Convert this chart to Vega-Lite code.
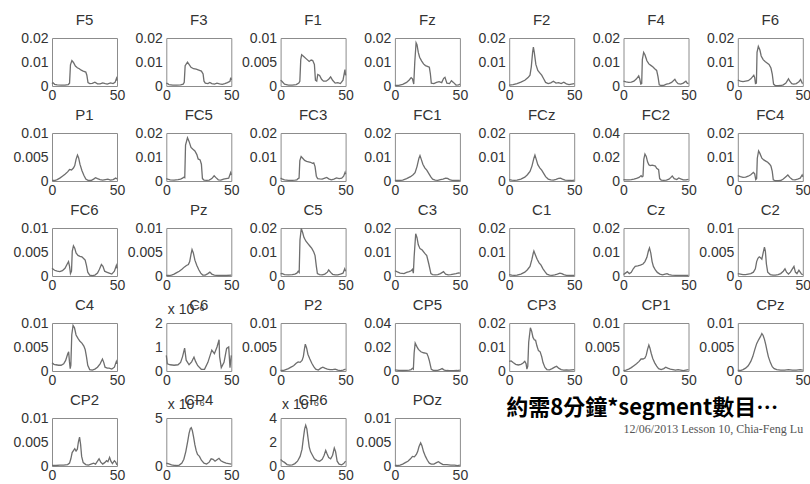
{
"$schema":"https://vega.github.io/schema/vega-lite/v6.json",
"background":"#ffffff",
"padding":{"left":12,"top":12,"right":0,"bottom":0},
"columns":7,
"spacing":{"row":47,"column":49.3},
"bounds":"flush",
"datasets":{
"F5":[{"f":0,"p":0.0010},{"f":0.7,"p":0.0014},{"f":2,"p":0.0007},{"f":4,"p":0.0005},{"f":7,"p":0.0004},{"f":10,"p":0.0004},{"f":12.5,"p":0.0006},{"f":13.5,"p":0.0012},{"f":14.2,"p":0.0088},{"f":15.3,"p":0.0106},{"f":16.5,"p":0.0098},{"f":18,"p":0.0083},{"f":19.5,"p":0.0076},{"f":21,"p":0.0072},{"f":22.5,"p":0.0066},{"f":24,"p":0.0062},{"f":26,"p":0.0058},{"f":26.8,"p":0.0045},{"f":27.7,"p":0.0014},{"f":29,"p":0.0010},{"f":31,"p":0.0011},{"f":33,"p":0.0016},{"f":35,"p":0.0009},{"f":37,"p":0.0009},{"f":39,"p":0.0013},{"f":41,"p":0.0010},{"f":42.5,"p":0.0008},{"f":45,"p":0.0013},{"f":47,"p":0.0010},{"f":48.5,"p":0.0015},{"f":49.6,"p":0.0032},{"f":50,"p":0.0022}],
"F3":[{"f":0,"p":0.0012},{"f":1,"p":0.0010},{"f":2,"p":0.0006},{"f":5,"p":0.0004},{"f":8,"p":0.0004},{"f":11,"p":0.0005},{"f":13,"p":0.0008},{"f":13.8,"p":0.0015},{"f":14.5,"p":0.0085},{"f":16.3,"p":0.0099},{"f":17.5,"p":0.0090},{"f":19,"p":0.0078},{"f":21,"p":0.0072},{"f":23,"p":0.0070},{"f":25,"p":0.0066},{"f":27,"p":0.0062},{"f":28.3,"p":0.0050},{"f":29,"p":0.0020},{"f":30,"p":0.0012},{"f":32,"p":0.0010},{"f":33.5,"p":0.0015},{"f":35,"p":0.0010},{"f":37,"p":0.0008},{"f":39,"p":0.0012},{"f":41,"p":0.0009},{"f":43,"p":0.0007},{"f":45,"p":0.0010},{"f":47,"p":0.0014},{"f":49,"p":0.0020},{"f":49.6,"p":0.0035},{"f":50,"p":0.0025}],
"F1":[{"f":0,"p":0.0012},{"f":1,"p":0.0010},{"f":3,"p":0.0004},{"f":6,"p":0.0002},{"f":9,"p":0.0002},{"f":12,"p":0.0003},{"f":14,"p":0.0006},{"f":14.8,"p":0.0010},{"f":15.5,"p":0.0055},{"f":16.2,"p":0.0065},{"f":18,"p":0.0061},{"f":20,"p":0.0056},{"f":22,"p":0.0051},{"f":23.5,"p":0.0054},{"f":24.7,"p":0.0053},{"f":26,"p":0.0045},{"f":26.8,"p":0.0012},{"f":27.8,"p":0.0010},{"f":28.6,"p":0.0024},{"f":30,"p":0.0022},{"f":31.5,"p":0.0014},{"f":33,"p":0.0010},{"f":35,"p":0.0010},{"f":37,"p":0.0014},{"f":38.5,"p":0.0019},{"f":40,"p":0.0012},{"f":42,"p":0.0006},{"f":44,"p":0.0007},{"f":46,"p":0.0005},{"f":48,"p":0.0012},{"f":49.5,"p":0.0034},{"f":50,"p":0.0022}],
"Fz":[{"f":0,"p":0.0002},{"f":3,"p":0.0003},{"f":6,"p":0.0007},{"f":9,"p":0.0015},{"f":11,"p":0.0025},{"f":12.5,"p":0.0035},{"f":13.5,"p":0.0030},{"f":14.5,"p":0.0008},{"f":15.3,"p":0.0100},{"f":16.3,"p":0.0180},{"f":17,"p":0.0172},{"f":18,"p":0.0140},{"f":19,"p":0.0120},{"f":20.5,"p":0.0105},{"f":22,"p":0.0092},{"f":23.5,"p":0.0085},{"f":25,"p":0.0082},{"f":26.5,"p":0.0078},{"f":27.3,"p":0.0050},{"f":28,"p":0.0012},{"f":30,"p":0.0010},{"f":32,"p":0.0015},{"f":34,"p":0.0018},{"f":36,"p":0.0014},{"f":37.5,"p":0.0032},{"f":38.5,"p":0.0036},{"f":40,"p":0.0012},{"f":42,"p":0.0010},{"f":43.5,"p":0.0022},{"f":45,"p":0.0015},{"f":47,"p":0.0004},{"f":49,"p":0.0005},{"f":50,"p":0.0008}],
"F2":[{"f":0,"p":0.0004},{"f":3,"p":0.0006},{"f":6,"p":0.0010},{"f":9,"p":0.0016},{"f":12,"p":0.0024},{"f":14.5,"p":0.0035},{"f":16,"p":0.0045},{"f":17,"p":0.0080},{"f":18,"p":0.0140},{"f":18.6,"p":0.0162},{"f":19.3,"p":0.0140},{"f":20.5,"p":0.0090},{"f":22,"p":0.0065},{"f":23.5,"p":0.0055},{"f":25,"p":0.0045},{"f":26.5,"p":0.0030},{"f":28,"p":0.0015},{"f":30,"p":0.0010},{"f":32,"p":0.0013},{"f":34,"p":0.0020},{"f":36,"p":0.0012},{"f":38,"p":0.0014},{"f":40,"p":0.0010},{"f":42,"p":0.0016},{"f":44,"p":0.0009},{"f":46,"p":0.0006},{"f":48,"p":0.0008},{"f":50,"p":0.0010}],
"F4":[{"f":0,"p":0.0020},{"f":2,"p":0.0017},{"f":4,"p":0.0015},{"f":6,"p":0.0016},{"f":8,"p":0.0020},{"f":10,"p":0.0030},{"f":11.7,"p":0.0042},{"f":12.5,"p":0.0030},{"f":13.3,"p":0.0008},{"f":14,"p":0.0010},{"f":14.5,"p":0.0110},{"f":15.5,"p":0.0140},{"f":16.5,"p":0.0130},{"f":18,"p":0.0105},{"f":19.5,"p":0.0092},{"f":21,"p":0.0086},{"f":22.5,"p":0.0080},{"f":24,"p":0.0072},{"f":25.5,"p":0.0065},{"f":26.5,"p":0.0040},{"f":27.5,"p":0.0005},{"f":29,"p":0.0002},{"f":31,"p":0.0003},{"f":33,"p":0.0008},{"f":35,"p":0.0010},{"f":37,"p":0.0015},{"f":39.5,"p":0.0028},{"f":40.5,"p":0.0018},{"f":42,"p":0.0010},{"f":44,"p":0.0008},{"f":46,"p":0.0012},{"f":48,"p":0.0020},{"f":49,"p":0.0012},{"f":50,"p":0.0010}],
"F6":[{"f":0,"p":0.0025},{"f":2,"p":0.0020},{"f":4,"p":0.0018},{"f":6,"p":0.0020},{"f":8,"p":0.0022},{"f":10,"p":0.0030},{"f":12.3,"p":0.0045},{"f":13,"p":0.0035},{"f":13.6,"p":0.0010},{"f":14.3,"p":0.0012},{"f":14.8,"p":0.0140},{"f":15.8,"p":0.0165},{"f":17,"p":0.0150},{"f":18,"p":0.0125},{"f":19.5,"p":0.0110},{"f":21,"p":0.0102},{"f":22.5,"p":0.0096},{"f":24,"p":0.0090},{"f":25.5,"p":0.0075},{"f":26.5,"p":0.0050},{"f":27.5,"p":0.0008},{"f":29,"p":0.0001},{"f":31,"p":0.0001},{"f":33,"p":0.0002},{"f":35,"p":0.0005},{"f":37,"p":0.0012},{"f":39,"p":0.0030},{"f":40,"p":0.0020},{"f":41.5,"p":0.0010},{"f":43,"p":0.0008},{"f":45,"p":0.0010},{"f":47,"p":0.0018},{"f":48.3,"p":0.0027},{"f":49.5,"p":0.0012},{"f":50,"p":0.0010}],
"P1":[{"f":0,"p":0.0001},{"f":2,"p":0.0001},{"f":4,"p":0.0003},{"f":6,"p":0.0006},{"f":8,"p":0.0010},{"f":10,"p":0.0014},{"f":12,"p":0.0019},{"f":13.5,"p":0.0024},{"f":15,"p":0.0023},{"f":16.5,"p":0.0027},{"f":17.5,"p":0.0032},{"f":18.5,"p":0.0045},{"f":19.6,"p":0.0054},{"f":20.5,"p":0.0048},{"f":21.5,"p":0.0035},{"f":23,"p":0.0022},{"f":24.5,"p":0.0012},{"f":26,"p":0.0004},{"f":28,"p":0.0001},{"f":30,"p":0.0001},{"f":32,"p":0.0004},{"f":33.5,"p":0.0007},{"f":35,"p":0.0005},{"f":37,"p":0.0003},{"f":39,"p":0.0002},{"f":41,"p":0.0003},{"f":43,"p":0.0004},{"f":45,"p":0.0002},{"f":47,"p":0.0003},{"f":49,"p":0.0006},{"f":50,"p":0.0004}],
"FC5":[{"f":0,"p":0.0010},{"f":1,"p":0.0008},{"f":3,"p":0.0005},{"f":6,"p":0.0004},{"f":9,"p":0.0006},{"f":11,"p":0.0008},{"f":12.5,"p":0.0012},{"f":13.5,"p":0.0016},{"f":14.2,"p":0.0014},{"f":14.8,"p":0.0150},{"f":16.3,"p":0.0180},{"f":17.5,"p":0.0165},{"f":19,"p":0.0140},{"f":20.5,"p":0.0132},{"f":22,"p":0.0125},{"f":23.5,"p":0.0110},{"f":24.5,"p":0.0092},{"f":26,"p":0.0088},{"f":27,"p":0.0070},{"f":27.8,"p":0.0010},{"f":29,"p":0.0004},{"f":31,"p":0.0003},{"f":33,"p":0.0004},{"f":35,"p":0.0010},{"f":36.8,"p":0.0022},{"f":38,"p":0.0015},{"f":40,"p":0.0005},{"f":42,"p":0.0004},{"f":44,"p":0.0008},{"f":46,"p":0.0010},{"f":48,"p":0.0012},{"f":49.5,"p":0.0035},{"f":50,"p":0.0025}],
"FC3":[{"f":0,"p":0.0012},{"f":1,"p":0.0009},{"f":3,"p":0.0005},{"f":6,"p":0.0003},{"f":9,"p":0.0003},{"f":11,"p":0.0004},{"f":12.5,"p":0.0005},{"f":13.5,"p":0.0010},{"f":14.2,"p":0.0012},{"f":14.8,"p":0.0085},{"f":15.8,"p":0.0102},{"f":17,"p":0.0095},{"f":18.5,"p":0.0086},{"f":20,"p":0.0082},{"f":21.5,"p":0.0080},{"f":23,"p":0.0078},{"f":24.5,"p":0.0074},{"f":25.5,"p":0.0076},{"f":26.5,"p":0.0060},{"f":27.5,"p":0.0020},{"f":28.5,"p":0.0010},{"f":30,"p":0.0009},{"f":32,"p":0.0008},{"f":34,"p":0.0012},{"f":35.5,"p":0.0015},{"f":37,"p":0.0009},{"f":39,"p":0.0005},{"f":41,"p":0.0008},{"f":43,"p":0.0013},{"f":45,"p":0.0010},{"f":47,"p":0.0012},{"f":48.5,"p":0.0020},{"f":49.6,"p":0.0036},{"f":50,"p":0.0028}],
"FC1":[{"f":0,"p":0.0002},{"f":3,"p":0.0002},{"f":6,"p":0.0004},{"f":9,"p":0.0010},{"f":12,"p":0.0018},{"f":14,"p":0.0026},{"f":15.5,"p":0.0035},{"f":17,"p":0.0060},{"f":18.5,"p":0.0095},{"f":19.3,"p":0.0106},{"f":20.3,"p":0.0090},{"f":21.5,"p":0.0070},{"f":23,"p":0.0055},{"f":24.5,"p":0.0045},{"f":26,"p":0.0032},{"f":27.5,"p":0.0018},{"f":29,"p":0.0008},{"f":31,"p":0.0004},{"f":33,"p":0.0003},{"f":35,"p":0.0006},{"f":37,"p":0.0008},{"f":39,"p":0.0012},{"f":40.5,"p":0.0011},{"f":42,"p":0.0006},{"f":44,"p":0.0003},{"f":46,"p":0.0002},{"f":48,"p":0.0002},{"f":50,"p":0.0003}],
"FCz":[{"f":0,"p":0.0006},{"f":2,"p":0.0004},{"f":4,"p":0.0003},{"f":6,"p":0.0004},{"f":9,"p":0.0008},{"f":12,"p":0.0016},{"f":14,"p":0.0026},{"f":16,"p":0.0040},{"f":17.5,"p":0.0062},{"f":19,"p":0.0095},{"f":19.8,"p":0.0108},{"f":20.8,"p":0.0090},{"f":22,"p":0.0068},{"f":23.5,"p":0.0055},{"f":25,"p":0.0045},{"f":26.5,"p":0.0032},{"f":28,"p":0.0018},{"f":30,"p":0.0008},{"f":32,"p":0.0005},{"f":34,"p":0.0004},{"f":36,"p":0.0007},{"f":38,"p":0.0011},{"f":39.5,"p":0.0012},{"f":41,"p":0.0008},{"f":43,"p":0.0004},{"f":46,"p":0.0003},{"f":48,"p":0.0002},{"f":50,"p":0.0004}],
"FC2":[{"f":0,"p":0.0012},{"f":2,"p":0.0010},{"f":4,"p":0.0010},{"f":6,"p":0.0012},{"f":8,"p":0.0016},{"f":10,"p":0.0022},{"f":12,"p":0.0030},{"f":13.5,"p":0.0045},{"f":14.3,"p":0.0035},{"f":15,"p":0.0040},{"f":15.6,"p":0.0180},{"f":16.5,"p":0.0225},{"f":17.5,"p":0.0205},{"f":18.5,"p":0.0160},{"f":19.5,"p":0.0135},{"f":20.5,"p":0.0128},{"f":22,"p":0.0132},{"f":23.5,"p":0.0128},{"f":24.5,"p":0.0125},{"f":25.5,"p":0.0105},{"f":27,"p":0.0095},{"f":27.8,"p":0.0020},{"f":29,"p":0.0008},{"f":31,"p":0.0006},{"f":33,"p":0.0008},{"f":35,"p":0.0015},{"f":36.5,"p":0.0030},{"f":37.5,"p":0.0042},{"f":39,"p":0.0020},{"f":41,"p":0.0012},{"f":42.5,"p":0.0025},{"f":44,"p":0.0018},{"f":46,"p":0.0010},{"f":48,"p":0.0009},{"f":50,"p":0.0014}],
"FC4":[{"f":0,"p":0.0022},{"f":2,"p":0.0018},{"f":4,"p":0.0015},{"f":6,"p":0.0016},{"f":8,"p":0.0020},{"f":10,"p":0.0026},{"f":12,"p":0.0036},{"f":13,"p":0.0030},{"f":13.8,"p":0.0006},{"f":14.5,"p":0.0010},{"f":15,"p":0.0095},{"f":16,"p":0.0125},{"f":17,"p":0.0115},{"f":18.5,"p":0.0095},{"f":20,"p":0.0088},{"f":21.5,"p":0.0083},{"f":23,"p":0.0078},{"f":24.5,"p":0.0070},{"f":25.5,"p":0.0062},{"f":26.5,"p":0.0040},{"f":27.3,"p":0.0005},{"f":29,"p":0.0001},{"f":31,"p":0.0001},{"f":33,"p":0.0002},{"f":35,"p":0.0008},{"f":37,"p":0.0018},{"f":38.5,"p":0.0025},{"f":40,"p":0.0015},{"f":42,"p":0.0006},{"f":44,"p":0.0005},{"f":46,"p":0.0008},{"f":48,"p":0.0012},{"f":49.5,"p":0.0025},{"f":50,"p":0.0018}],
"FC6":[{"f":0,"p":0.0016},{"f":2,"p":0.0012},{"f":4,"p":0.0010},{"f":6,"p":0.0009},{"f":8,"p":0.0011},{"f":10,"p":0.0016},{"f":11.5,"p":0.0024},{"f":12.7,"p":0.0030},{"f":13.5,"p":0.0020},{"f":14.2,"p":0.0005},{"f":15,"p":0.0010},{"f":15.6,"p":0.0052},{"f":16.5,"p":0.0063},{"f":17.5,"p":0.0058},{"f":18.5,"p":0.0048},{"f":20,"p":0.0043},{"f":21.5,"p":0.0041},{"f":23,"p":0.0040},{"f":24.5,"p":0.0036},{"f":25.5,"p":0.0033},{"f":26.5,"p":0.0022},{"f":27.5,"p":0.0008},{"f":29,"p":0.0002},{"f":31,"p":0.0001},{"f":33,"p":0.0002},{"f":35,"p":0.0006},{"f":36.5,"p":0.0014},{"f":38,"p":0.0024},{"f":39.2,"p":0.0020},{"f":40.5,"p":0.0010},{"f":42,"p":0.0008},{"f":44,"p":0.0006},{"f":46,"p":0.0004},{"f":48,"p":0.0010},{"f":49.5,"p":0.0022},{"f":50,"p":0.0016}],
"Pz":[{"f":0,"p":0.0001},{"f":2,"p":0.0001},{"f":4,"p":0.0002},{"f":6,"p":0.0004},{"f":8,"p":0.0007},{"f":10,"p":0.0010},{"f":12,"p":0.0014},{"f":14,"p":0.0019},{"f":15.5,"p":0.0022},{"f":17,"p":0.0024},{"f":18,"p":0.0030},{"f":19,"p":0.0045},{"f":19.8,"p":0.0055},{"f":20.8,"p":0.0048},{"f":22,"p":0.0033},{"f":23.5,"p":0.0022},{"f":25,"p":0.0013},{"f":26.5,"p":0.0006},{"f":28,"p":0.0002},{"f":30,"p":0.0002},{"f":32,"p":0.0005},{"f":33.5,"p":0.0008},{"f":35,"p":0.0004},{"f":37,"p":0.0002},{"f":40,"p":0.0001},{"f":43,"p":0.0001},{"f":46,"p":0.0001},{"f":50,"p":0.0002}],
"C5":[{"f":0,"p":0.0009},{"f":1,"p":0.0011},{"f":3,"p":0.0006},{"f":6,"p":0.0005},{"f":9,"p":0.0006},{"f":11,"p":0.0008},{"f":12.5,"p":0.0012},{"f":13.5,"p":0.0020},{"f":14.3,"p":0.0015},{"f":14.9,"p":0.0150},{"f":15.9,"p":0.0198},{"f":17,"p":0.0180},{"f":18,"p":0.0160},{"f":19.5,"p":0.0145},{"f":21,"p":0.0135},{"f":22.5,"p":0.0125},{"f":24,"p":0.0115},{"f":25.5,"p":0.0100},{"f":26.5,"p":0.0085},{"f":27.5,"p":0.0040},{"f":28.3,"p":0.0010},{"f":30,"p":0.0006},{"f":32,"p":0.0005},{"f":34,"p":0.0008},{"f":36,"p":0.0016},{"f":37,"p":0.0025},{"f":38.5,"p":0.0015},{"f":40,"p":0.0007},{"f":42,"p":0.0005},{"f":44,"p":0.0005},{"f":46,"p":0.0008},{"f":48,"p":0.0012},{"f":49.3,"p":0.0030},{"f":50,"p":0.0020}],
"C3":[{"f":0,"p":0.0022},{"f":1.5,"p":0.0018},{"f":4,"p":0.0012},{"f":7,"p":0.0010},{"f":9,"p":0.0015},{"f":11,"p":0.0018},{"f":12.5,"p":0.0022},{"f":13.5,"p":0.0028},{"f":14.2,"p":0.0012},{"f":14.8,"p":0.0080},{"f":16,"p":0.0176},{"f":17,"p":0.0160},{"f":18,"p":0.0130},{"f":19.3,"p":0.0114},{"f":21,"p":0.0108},{"f":23,"p":0.0094},{"f":24.5,"p":0.0085},{"f":26,"p":0.0052},{"f":27.7,"p":0.0010},{"f":29,"p":0.0006},{"f":31,"p":0.0005},{"f":33,"p":0.0006},{"f":35,"p":0.0010},{"f":37.4,"p":0.0018},{"f":39,"p":0.0008},{"f":41,"p":0.0005},{"f":43,"p":0.0006},{"f":45,"p":0.0008},{"f":47,"p":0.0010},{"f":49,"p":0.0013},{"f":50,"p":0.0012}],
"C1":[{"f":0,"p":0.0006},{"f":2,"p":0.0004},{"f":4,"p":0.0003},{"f":6,"p":0.0004},{"f":9,"p":0.0008},{"f":12,"p":0.0016},{"f":14,"p":0.0026},{"f":16,"p":0.0040},{"f":17.5,"p":0.0070},{"f":18.5,"p":0.0095},{"f":19,"p":0.0104},{"f":20,"p":0.0090},{"f":21.5,"p":0.0070},{"f":23,"p":0.0055},{"f":24.5,"p":0.0045},{"f":26,"p":0.0030},{"f":27.5,"p":0.0018},{"f":29,"p":0.0008},{"f":31,"p":0.0004},{"f":33,"p":0.0003},{"f":35,"p":0.0005},{"f":37,"p":0.0008},{"f":39,"p":0.0012},{"f":40.5,"p":0.0010},{"f":42,"p":0.0006},{"f":44,"p":0.0003},{"f":47,"p":0.0002},{"f":50,"p":0.0003}],
"Cz":[{"f":0,"p":0.0006},{"f":1.5,"p":0.0012},{"f":3,"p":0.0018},{"f":4.5,"p":0.0010},{"f":6,"p":0.0015},{"f":7.5,"p":0.0030},{"f":9,"p":0.0040},{"f":11,"p":0.0042},{"f":13,"p":0.0045},{"f":15,"p":0.0050},{"f":16.5,"p":0.0060},{"f":18,"p":0.0078},{"f":19.2,"p":0.0105},{"f":20,"p":0.0117},{"f":21,"p":0.0095},{"f":22,"p":0.0060},{"f":23,"p":0.0040},{"f":24.5,"p":0.0025},{"f":26,"p":0.0015},{"f":28,"p":0.0008},{"f":30,"p":0.0005},{"f":32,"p":0.0008},{"f":33.5,"p":0.0010},{"f":35,"p":0.0006},{"f":37,"p":0.0004},{"f":40,"p":0.0003},{"f":43,"p":0.0003},{"f":46,"p":0.0003},{"f":50,"p":0.0002}],
"C2":[{"f":0,"p":0.0005},{"f":2,"p":0.0004},{"f":4,"p":0.0003},{"f":6,"p":0.0003},{"f":8,"p":0.0004},{"f":10,"p":0.0005},{"f":12,"p":0.0008},{"f":13.5,"p":0.0015},{"f":14.5,"p":0.0030},{"f":15.5,"p":0.0037},{"f":16.5,"p":0.0040},{"f":17.5,"p":0.0038},{"f":18.5,"p":0.0035},{"f":19.5,"p":0.0048},{"f":20.5,"p":0.0060},{"f":21.2,"p":0.0052},{"f":22,"p":0.0025},{"f":23,"p":0.0008},{"f":25,"p":0.0003},{"f":27,"p":0.0002},{"f":29,"p":0.0002},{"f":31,"p":0.0003},{"f":33,"p":0.0005},{"f":35,"p":0.0010},{"f":36.3,"p":0.0015},{"f":37.5,"p":0.0008},{"f":39,"p":0.0004},{"f":40.5,"p":0.0008},{"f":42,"p":0.0015},{"f":43.2,"p":0.0020},{"f":44.3,"p":0.0008},{"f":45.5,"p":0.0005},{"f":47,"p":0.0012},{"f":48,"p":0.0008},{"f":49,"p":0.0004},{"f":50,"p":0.0003}],
"C4":[{"f":0,"p":0.0017},{"f":1.5,"p":0.0014},{"f":3,"p":0.0013},{"f":5,"p":0.0012},{"f":7,"p":0.0012},{"f":9,"p":0.0015},{"f":10.5,"p":0.0022},{"f":12,"p":0.0035},{"f":12.8,"p":0.0040},{"f":13.4,"p":0.0020},{"f":14,"p":0.0005},{"f":14.5,"p":0.0012},{"f":15.2,"p":0.0075},{"f":16.2,"p":0.0095},{"f":17.3,"p":0.0090},{"f":18.5,"p":0.0075},{"f":20,"p":0.0068},{"f":21.5,"p":0.0062},{"f":23,"p":0.0058},{"f":24.5,"p":0.0052},{"f":25.5,"p":0.0045},{"f":26.5,"p":0.0030},{"f":27.5,"p":0.0012},{"f":29,"p":0.0003},{"f":31,"p":0.0002},{"f":33,"p":0.0004},{"f":35,"p":0.0008},{"f":37,"p":0.0015},{"f":38.8,"p":0.0025},{"f":39.8,"p":0.0018},{"f":40.8,"p":0.0008},{"f":42.5,"p":0.0006},{"f":44,"p":0.0006},{"f":46,"p":0.0004},{"f":48,"p":0.0008},{"f":49.5,"p":0.0020},{"f":50,"p":0.0015}],
"C6":[{"f":0,"p":6.5e-7},{"f":0.8,"p":3.0e-7},{"f":3,"p":2.6e-7},{"f":6,"p":2.4e-7},{"f":9,"p":2.6e-7},{"f":11,"p":3.6e-7},{"f":12.5,"p":6.0e-7},{"f":14.1,"p":9.5e-7},{"f":15.3,"p":4.5e-7},{"f":17.5,"p":2.6e-7},{"f":19.5,"p":3.8e-7},{"f":21.3,"p":5.8e-7},{"f":22.5,"p":4.0e-7},{"f":24.2,"p":2.2e-7},{"f":26.9,"p":7e-8},{"f":29.4,"p":7e-8},{"f":32,"p":3.6e-7},{"f":35,"p":8.7e-7},{"f":37,"p":7.2e-7},{"f":39,"p":1.0e-6},{"f":40.6,"p":1.3e-6},{"f":41,"p":6.0e-7},{"f":42.3,"p":1.4e-7},{"f":44.4,"p":3.6e-7},{"f":46.4,"p":9.4e-7},{"f":48,"p":1.0e-6},{"f":49,"p":1.4e-7},{"f":50,"p":6.5e-7}],
"P2":[{"f":0,"p":0.0001},{"f":2,"p":0.0001},{"f":4,"p":0.0003},{"f":6,"p":0.0005},{"f":8,"p":0.0008},{"f":10,"p":0.0011},{"f":12,"p":0.0016},{"f":13.5,"p":0.0019},{"f":15,"p":0.0018},{"f":16.5,"p":0.0022},{"f":17.5,"p":0.0030},{"f":18.3,"p":0.0045},{"f":19,"p":0.0056},{"f":20,"p":0.0048},{"f":21,"p":0.0035},{"f":22.5,"p":0.0025},{"f":24,"p":0.0016},{"f":25.5,"p":0.0009},{"f":27,"p":0.0004},{"f":29,"p":0.0002},{"f":31,"p":0.0006},{"f":32.5,"p":0.0008},{"f":34,"p":0.0006},{"f":36,"p":0.0004},{"f":38,"p":0.0003},{"f":40,"p":0.0003},{"f":42,"p":0.0004},{"f":44,"p":0.0002},{"f":46,"p":0.0001},{"f":48,"p":0.0002},{"f":50,"p":0.0004}],
"CP5":[{"f":0,"p":0.0010},{"f":1.5,"p":0.0008},{"f":3,"p":0.0005},{"f":6,"p":0.0004},{"f":9,"p":0.0005},{"f":11,"p":0.0008},{"f":12.5,"p":0.0012},{"f":13.5,"p":0.0022},{"f":14.2,"p":0.0015},{"f":14.8,"p":0.0150},{"f":15.6,"p":0.0232},{"f":16.8,"p":0.0205},{"f":18.1,"p":0.0180},{"f":20,"p":0.0160},{"f":22,"p":0.0152},{"f":24.6,"p":0.0146},{"f":25.6,"p":0.0120},{"f":26.4,"p":0.0090},{"f":28,"p":0.0014},{"f":29.5,"p":0.0005},{"f":31,"p":0.0004},{"f":33,"p":0.0006},{"f":35,"p":0.0014},{"f":36.3,"p":0.0020},{"f":38,"p":0.0008},{"f":40,"p":0.0004},{"f":42,"p":0.0003},{"f":45,"p":0.0003},{"f":48,"p":0.0004},{"f":50,"p":0.0008}],
"CP3":[{"f":0,"p":0.0040},{"f":1.5,"p":0.0042},{"f":3,"p":0.0035},{"f":5,"p":0.0028},{"f":7,"p":0.0025},{"f":9,"p":0.0028},{"f":10.5,"p":0.0032},{"f":12,"p":0.0040},{"f":13,"p":0.0030},{"f":13.6,"p":0.0008},{"f":14.3,"p":0.0020},{"f":15,"p":0.0120},{"f":16.3,"p":0.0180},{"f":17.3,"p":0.0165},{"f":18.3,"p":0.0140},{"f":19.3,"p":0.0130},{"f":20.3,"p":0.0128},{"f":21.3,"p":0.0105},{"f":22.5,"p":0.0085},{"f":23.8,"p":0.0080},{"f":25,"p":0.0060},{"f":26,"p":0.0035},{"f":27.5,"p":0.0015},{"f":29,"p":0.0006},{"f":31,"p":0.0005},{"f":33,"p":0.0010},{"f":35,"p":0.0016},{"f":36.5,"p":0.0020},{"f":38,"p":0.0012},{"f":40,"p":0.0006},{"f":42,"p":0.0004},{"f":44,"p":0.0005},{"f":46,"p":0.0004},{"f":48,"p":0.0005},{"f":50,"p":0.0006}],
"CP1":[{"f":0,"p":0.0001},{"f":2,"p":0.0002},{"f":4,"p":0.0004},{"f":6,"p":0.0007},{"f":8,"p":0.0011},{"f":10,"p":0.0015},{"f":12,"p":0.0020},{"f":13.5,"p":0.0025},{"f":15,"p":0.0025},{"f":16.5,"p":0.0027},{"f":17.5,"p":0.0033},{"f":18.5,"p":0.0045},{"f":19.5,"p":0.0054},{"f":20.3,"p":0.0048},{"f":21.3,"p":0.0037},{"f":22.5,"p":0.0026},{"f":24,"p":0.0017},{"f":25.5,"p":0.0010},{"f":27,"p":0.0005},{"f":29,"p":0.0003},{"f":31,"p":0.0005},{"f":32.5,"p":0.0008},{"f":34,"p":0.0006},{"f":36,"p":0.0004},{"f":38,"p":0.0003},{"f":40,"p":0.0002},{"f":42,"p":0.0003},{"f":44,"p":0.0002},{"f":46,"p":0.0001},{"f":48,"p":0.0002},{"f":50,"p":0.0003}],
"CPz":[{"f":0,"p":0.0001},{"f":2,"p":0.0001},{"f":4,"p":0.0003},{"f":6,"p":0.0006},{"f":8,"p":0.0011},{"f":10,"p":0.0020},{"f":11.5,"p":0.0030},{"f":13,"p":0.0044},{"f":14.5,"p":0.0057},{"f":16,"p":0.0065},{"f":17.5,"p":0.0072},{"f":18.5,"p":0.0078},{"f":19.5,"p":0.0074},{"f":20.5,"p":0.0066},{"f":21.5,"p":0.0055},{"f":22.5,"p":0.0042},{"f":23.5,"p":0.0030},{"f":25,"p":0.0018},{"f":26.5,"p":0.0009},{"f":28,"p":0.0005},{"f":30,"p":0.0003},{"f":33,"p":0.0002},{"f":36,"p":0.0002},{"f":39,"p":0.0003},{"f":42,"p":0.0002},{"f":45,"p":0.0002},{"f":48,"p":0.0003},{"f":50,"p":0.0002}],
"CP2":[{"f":0,"p":0.0001},{"f":3,"p":0.0001},{"f":6,"p":0.0002},{"f":9,"p":0.0002},{"f":12,"p":0.0003},{"f":13.5,"p":0.0006},{"f":14.5,"p":0.0015},{"f":15.5,"p":0.0028},{"f":16.5,"p":0.0032},{"f":17.5,"p":0.0036},{"f":18.5,"p":0.0031},{"f":19.5,"p":0.0035},{"f":20.3,"p":0.0050},{"f":21.2,"p":0.0060},{"f":22,"p":0.0045},{"f":22.8,"p":0.0020},{"f":24,"p":0.0007},{"f":26,"p":0.0003},{"f":28,"p":0.0002},{"f":30,"p":0.0004},{"f":32,"p":0.0006},{"f":33.5,"p":0.0004},{"f":35,"p":0.0010},{"f":36.2,"p":0.0015},{"f":37.5,"p":0.0008},{"f":39,"p":0.0004},{"f":40.5,"p":0.0007},{"f":42,"p":0.0011},{"f":43,"p":0.0009},{"f":44.3,"p":0.0018},{"f":45.3,"p":0.0010},{"f":46.5,"p":0.0005},{"f":48,"p":0.0011},{"f":49,"p":0.0008},{"f":50,"p":0.0002}],
"CP4":[{"f":0,"p":3.0e-7},{"f":2,"p":2.2e-7},{"f":4,"p":1.2e-7},{"f":6,"p":6e-8},{"f":8,"p":5e-8},{"f":10,"p":1.0e-7},{"f":12,"p":3.0e-7},{"f":13.5,"p":7.0e-7},{"f":15,"p":1.5e-6},{"f":16.5,"p":2.6e-6},{"f":17.5,"p":3.4e-6},{"f":18.5,"p":3.9e-6},{"f":19.2,"p":4.0e-6},{"f":20,"p":3.7e-6},{"f":21,"p":3.0e-6},{"f":22,"p":2.2e-6},{"f":23,"p":1.6e-6},{"f":24,"p":1.2e-6},{"f":25.5,"p":1.0e-6},{"f":27,"p":6.0e-7},{"f":29,"p":3.0e-7},{"f":31,"p":2.0e-7},{"f":33,"p":4.0e-7},{"f":34.5,"p":7.5e-7},{"f":36,"p":7.0e-7},{"f":37.5,"p":5.0e-7},{"f":39,"p":6.5e-7},{"f":40.5,"p":8.0e-7},{"f":42,"p":5.5e-7},{"f":44,"p":4.0e-7},{"f":46,"p":3.0e-7},{"f":48,"p":2.5e-7},{"f":50,"p":2.0e-7}],
"CP6":[{"f":0,"p":5.5e-7},{"f":1.5,"p":4.0e-7},{"f":3,"p":3.0e-7},{"f":5,"p":1.2e-7},{"f":7,"p":8e-8},{"f":9,"p":1.0e-7},{"f":11,"p":2.0e-7},{"f":13,"p":4.0e-7},{"f":15,"p":8.0e-7},{"f":16.5,"p":1.4e-6},{"f":17.5,"p":2.3e-6},{"f":18.5,"p":3.1e-6},{"f":19.3,"p":3.4e-6},{"f":20.2,"p":3.1e-6},{"f":21,"p":2.4e-6},{"f":22,"p":1.6e-6},{"f":23,"p":1.2e-6},{"f":24.5,"p":9.0e-7},{"f":26,"p":6.0e-7},{"f":28,"p":4.5e-7},{"f":30,"p":4.0e-7},{"f":32,"p":5.5e-7},{"f":33.5,"p":9.0e-7},{"f":34.7,"p":1.3e-6},{"f":35.8,"p":1.0e-6},{"f":37,"p":7.0e-7},{"f":38.5,"p":6.0e-7},{"f":40,"p":9.0e-7},{"f":41.3,"p":1.5e-6},{"f":42.3,"p":1.2e-6},{"f":43.5,"p":4.0e-7},{"f":45,"p":1.5e-7},{"f":47,"p":1.0e-7},{"f":48.5,"p":2.0e-7},{"f":50,"p":4.0e-7}],
"POz":[{"f":0,"p":0.0001},{"f":2,"p":0.0001},{"f":4,"p":0.0002},{"f":6,"p":0.0004},{"f":8,"p":0.0007},{"f":10,"p":0.0010},{"f":12,"p":0.0015},{"f":13.5,"p":0.0020},{"f":15,"p":0.0019},{"f":16.5,"p":0.0024},{"f":17.5,"p":0.0030},{"f":18.5,"p":0.0040},{"f":19.8,"p":0.0048},{"f":20.8,"p":0.0042},{"f":22,"p":0.0030},{"f":23.5,"p":0.0020},{"f":25,"p":0.0012},{"f":26.5,"p":0.0006},{"f":28,"p":0.0004},{"f":30,"p":0.0004},{"f":32,"p":0.0007},{"f":33.5,"p":0.0009},{"f":35,"p":0.0006},{"f":37,"p":0.0003},{"f":40,"p":0.0003},{"f":43,"p":0.0002},{"f":46,"p":0.0002},{"f":48,"p":0.0001},{"f":50,"p":0.0002}]
},
"concat":[
{"title":"F5","data":{"name":"F5"},"mark":"line","encoding":{"x":{"field":"f","type":"quantitative","title":null,"scale":{"domain":[0,50]},"axis":{"values":[0,50]}},"y":{"field":"p","type":"quantitative","title":null,"scale":{"domain":[0,0.02]},"axis":{"values":[0,0.01,0.02]}}}},
{"title":"F3","data":{"name":"F3"},"mark":"line","encoding":{"x":{"field":"f","type":"quantitative","title":null,"scale":{"domain":[0,50]},"axis":{"values":[0,50]}},"y":{"field":"p","type":"quantitative","title":null,"scale":{"domain":[0,0.02]},"axis":{"values":[0,0.01,0.02]}}}},
{"title":"F1","data":{"name":"F1"},"mark":"line","encoding":{"x":{"field":"f","type":"quantitative","title":null,"scale":{"domain":[0,50]},"axis":{"values":[0,50]}},"y":{"field":"p","type":"quantitative","title":null,"scale":{"domain":[0,0.01]},"axis":{"values":[0,0.005,0.01]}}}},
{"title":"Fz","data":{"name":"Fz"},"mark":"line","encoding":{"x":{"field":"f","type":"quantitative","title":null,"scale":{"domain":[0,50]},"axis":{"values":[0,50]}},"y":{"field":"p","type":"quantitative","title":null,"scale":{"domain":[0,0.02]},"axis":{"values":[0,0.01,0.02]}}}},
{"title":"F2","data":{"name":"F2"},"mark":"line","encoding":{"x":{"field":"f","type":"quantitative","title":null,"scale":{"domain":[0,50]},"axis":{"values":[0,50]}},"y":{"field":"p","type":"quantitative","title":null,"scale":{"domain":[0,0.02]},"axis":{"values":[0,0.01,0.02]}}}},
{"title":"F4","data":{"name":"F4"},"mark":"line","encoding":{"x":{"field":"f","type":"quantitative","title":null,"scale":{"domain":[0,50]},"axis":{"values":[0,50]}},"y":{"field":"p","type":"quantitative","title":null,"scale":{"domain":[0,0.02]},"axis":{"values":[0,0.01,0.02]}}}},
{"title":"F6","data":{"name":"F6"},"mark":"line","encoding":{"x":{"field":"f","type":"quantitative","title":null,"scale":{"domain":[0,50]},"axis":{"values":[0,50]}},"y":{"field":"p","type":"quantitative","title":null,"scale":{"domain":[0,0.02]},"axis":{"values":[0,0.01,0.02]}}}},
{"title":"P1","data":{"name":"P1"},"mark":"line","encoding":{"x":{"field":"f","type":"quantitative","title":null,"scale":{"domain":[0,50]},"axis":{"values":[0,50]}},"y":{"field":"p","type":"quantitative","title":null,"scale":{"domain":[0,0.01]},"axis":{"values":[0,0.005,0.01]}}}},
{"title":"FC5","data":{"name":"FC5"},"mark":"line","encoding":{"x":{"field":"f","type":"quantitative","title":null,"scale":{"domain":[0,50]},"axis":{"values":[0,50]}},"y":{"field":"p","type":"quantitative","title":null,"scale":{"domain":[0,0.02]},"axis":{"values":[0,0.01,0.02]}}}},
{"title":"FC3","data":{"name":"FC3"},"mark":"line","encoding":{"x":{"field":"f","type":"quantitative","title":null,"scale":{"domain":[0,50]},"axis":{"values":[0,50]}},"y":{"field":"p","type":"quantitative","title":null,"scale":{"domain":[0,0.02]},"axis":{"values":[0,0.01,0.02]}}}},
{"title":"FC1","data":{"name":"FC1"},"mark":"line","encoding":{"x":{"field":"f","type":"quantitative","title":null,"scale":{"domain":[0,50]},"axis":{"values":[0,50]}},"y":{"field":"p","type":"quantitative","title":null,"scale":{"domain":[0,0.02]},"axis":{"values":[0,0.01,0.02]}}}},
{"title":"FCz","data":{"name":"FCz"},"mark":"line","encoding":{"x":{"field":"f","type":"quantitative","title":null,"scale":{"domain":[0,50]},"axis":{"values":[0,50]}},"y":{"field":"p","type":"quantitative","title":null,"scale":{"domain":[0,0.02]},"axis":{"values":[0,0.01,0.02]}}}},
{"title":"FC2","data":{"name":"FC2"},"mark":"line","encoding":{"x":{"field":"f","type":"quantitative","title":null,"scale":{"domain":[0,50]},"axis":{"values":[0,50]}},"y":{"field":"p","type":"quantitative","title":null,"scale":{"domain":[0,0.04]},"axis":{"values":[0,0.02,0.04]}}}},
{"title":"FC4","data":{"name":"FC4"},"mark":"line","encoding":{"x":{"field":"f","type":"quantitative","title":null,"scale":{"domain":[0,50]},"axis":{"values":[0,50]}},"y":{"field":"p","type":"quantitative","title":null,"scale":{"domain":[0,0.02]},"axis":{"values":[0,0.01,0.02]}}}},
{"title":"FC6","data":{"name":"FC6"},"mark":"line","encoding":{"x":{"field":"f","type":"quantitative","title":null,"scale":{"domain":[0,50]},"axis":{"values":[0,50]}},"y":{"field":"p","type":"quantitative","title":null,"scale":{"domain":[0,0.01]},"axis":{"values":[0,0.005,0.01]}}}},
{"title":"Pz","data":{"name":"Pz"},"mark":"line","encoding":{"x":{"field":"f","type":"quantitative","title":null,"scale":{"domain":[0,50]},"axis":{"values":[0,50]}},"y":{"field":"p","type":"quantitative","title":null,"scale":{"domain":[0,0.01]},"axis":{"values":[0,0.005,0.01]}}}},
{"title":"C5","data":{"name":"C5"},"mark":"line","encoding":{"x":{"field":"f","type":"quantitative","title":null,"scale":{"domain":[0,50]},"axis":{"values":[0,50]}},"y":{"field":"p","type":"quantitative","title":null,"scale":{"domain":[0,0.02]},"axis":{"values":[0,0.01,0.02]}}}},
{"title":"C3","data":{"name":"C3"},"mark":"line","encoding":{"x":{"field":"f","type":"quantitative","title":null,"scale":{"domain":[0,50]},"axis":{"values":[0,50]}},"y":{"field":"p","type":"quantitative","title":null,"scale":{"domain":[0,0.02]},"axis":{"values":[0,0.01,0.02]}}}},
{"title":"C1","data":{"name":"C1"},"mark":"line","encoding":{"x":{"field":"f","type":"quantitative","title":null,"scale":{"domain":[0,50]},"axis":{"values":[0,50]}},"y":{"field":"p","type":"quantitative","title":null,"scale":{"domain":[0,0.02]},"axis":{"values":[0,0.01,0.02]}}}},
{"title":"Cz","data":{"name":"Cz"},"mark":"line","encoding":{"x":{"field":"f","type":"quantitative","title":null,"scale":{"domain":[0,50]},"axis":{"values":[0,50]}},"y":{"field":"p","type":"quantitative","title":null,"scale":{"domain":[0,0.02]},"axis":{"values":[0,0.01,0.02]}}}},
{"title":"C2","data":{"name":"C2"},"mark":"line","encoding":{"x":{"field":"f","type":"quantitative","title":null,"scale":{"domain":[0,50]},"axis":{"values":[0,50]}},"y":{"field":"p","type":"quantitative","title":null,"scale":{"domain":[0,0.01]},"axis":{"values":[0,0.005,0.01]}}}},
{"title":"C4","data":{"name":"C4"},"mark":"line","encoding":{"x":{"field":"f","type":"quantitative","title":null,"scale":{"domain":[0,50]},"axis":{"values":[0,50]}},"y":{"field":"p","type":"quantitative","title":null,"scale":{"domain":[0,0.01]},"axis":{"values":[0,0.005,0.01]}}}},
{"title":{"text":"C6","dy":14},"data":{"name":"C6"},"mark":"line","encoding":{"x":{"field":"f","type":"quantitative","title":null,"scale":{"domain":[0,50]},"axis":{"values":[0,50]}},"y":{"field":"p","type":"quantitative","title":"x 10⁻⁶","scale":{"domain":[0,2e-6]},"axis":{"values":[0,1e-6,2e-6],"labelExpr":"format(datum.value*1e6,'~r')","titleAngle":0,"titleAlign":"left","titleBaseline":"alphabetic","titleX":1,"titleY":-10}}}},
{"title":"P2","data":{"name":"P2"},"mark":"line","encoding":{"x":{"field":"f","type":"quantitative","title":null,"scale":{"domain":[0,50]},"axis":{"values":[0,50]}},"y":{"field":"p","type":"quantitative","title":null,"scale":{"domain":[0,0.01]},"axis":{"values":[0,0.005,0.01]}}}},
{"title":"CP5","data":{"name":"CP5"},"mark":"line","encoding":{"x":{"field":"f","type":"quantitative","title":null,"scale":{"domain":[0,50]},"axis":{"values":[0,50]}},"y":{"field":"p","type":"quantitative","title":null,"scale":{"domain":[0,0.04]},"axis":{"values":[0,0.02,0.04]}}}},
{"title":"CP3","data":{"name":"CP3"},"mark":"line","encoding":{"x":{"field":"f","type":"quantitative","title":null,"scale":{"domain":[0,50]},"axis":{"values":[0,50]}},"y":{"field":"p","type":"quantitative","title":null,"scale":{"domain":[0,0.02]},"axis":{"values":[0,0.01,0.02]}}}},
{"title":"CP1","data":{"name":"CP1"},"mark":"line","encoding":{"x":{"field":"f","type":"quantitative","title":null,"scale":{"domain":[0,50]},"axis":{"values":[0,50]}},"y":{"field":"p","type":"quantitative","title":null,"scale":{"domain":[0,0.01]},"axis":{"values":[0,0.005,0.01]}}}},
{"title":"CPz","data":{"name":"CPz"},"mark":"line","encoding":{"x":{"field":"f","type":"quantitative","title":null,"scale":{"domain":[0,50]},"axis":{"values":[0,50]}},"y":{"field":"p","type":"quantitative","title":null,"scale":{"domain":[0,0.01]},"axis":{"values":[0,0.005,0.01]}}}},
{"title":"CP2","data":{"name":"CP2"},"mark":"line","encoding":{"x":{"field":"f","type":"quantitative","title":null,"scale":{"domain":[0,50]},"axis":{"values":[0,50]}},"y":{"field":"p","type":"quantitative","title":null,"scale":{"domain":[0,0.01]},"axis":{"values":[0,0.005,0.01]}}}},
{"title":{"text":"CP4","dy":14},"data":{"name":"CP4"},"mark":"line","encoding":{"x":{"field":"f","type":"quantitative","title":null,"scale":{"domain":[0,50]},"axis":{"values":[0,50]}},"y":{"field":"p","type":"quantitative","title":"x 10⁻⁶","scale":{"domain":[0,5e-6]},"axis":{"values":[0,5e-6],"labelExpr":"format(datum.value*1e6,'~r')","titleAngle":0,"titleAlign":"left","titleBaseline":"alphabetic","titleX":1,"titleY":-10}}}},
{"title":{"text":"CP6","dy":14},"data":{"name":"CP6"},"mark":"line","encoding":{"x":{"field":"f","type":"quantitative","title":null,"scale":{"domain":[0,50]},"axis":{"values":[0,50]}},"y":{"field":"p","type":"quantitative","title":"x 10⁻⁶","scale":{"domain":[0,4e-6]},"axis":{"values":[0,2e-6,4e-6],"labelExpr":"format(datum.value*1e6,'~r')","titleAngle":0,"titleAlign":"left","titleBaseline":"alphabetic","titleX":1,"titleY":-10}}}},
{"title":"POz","data":{"name":"POz"},"mark":"line","encoding":{"x":{"field":"f","type":"quantitative","title":null,"scale":{"domain":[0,50]},"axis":{"values":[0,50]}},"y":{"field":"p","type":"quantitative","title":null,"scale":{"domain":[0,0.01]},"axis":{"values":[0,0.005,0.01]}}}},
{"title":{"text":"約需8分鐘*segment數目…","anchor":"start","font":"Noto Sans CJK TC","fontSize":22,"fontWeight":"bold","color":"#000000","offset":-2,"dx":-3},"data":{"values":[]},"mark":"point","view":{"stroke":null}},
{"title":{"text":"12/06/2013 Lesson 10, Chia-Feng Lu","anchor":"start","font":"Liberation Serif","fontSize":12,"fontWeight":"normal","color":"#555555","offset":-18},"data":{"values":[]},"mark":"point","view":{"stroke":null}}
],
"config":{
"view":{"continuousWidth":65,"continuousHeight":48,"discreteWidth":65,"discreteHeight":48,"stroke":"#8c8c8c","strokeWidth":1},
"axis":{"grid":false,"ticks":false,"tickSize":0,"domain":false,"labelFont":"Liberation Sans","labelFontSize":14,"labelColor":"#333333","labelPadding":4,"format":"~r","labelFlush":false,"labelOverlap":false,"titleFont":"Liberation Sans","titleFontSize":14,"titleFontWeight":"normal","titleColor":"#333333"},
"axisX":{"labelPadding":2},
"title":{"font":"Liberation Sans","fontSize":15,"fontWeight":"normal","color":"#333333","offset":3,"baseline":"alphabetic","anchor":"middle","frame":"group"},
"line":{"stroke":"#6e6e6e","strokeWidth":1.3}
}
}
